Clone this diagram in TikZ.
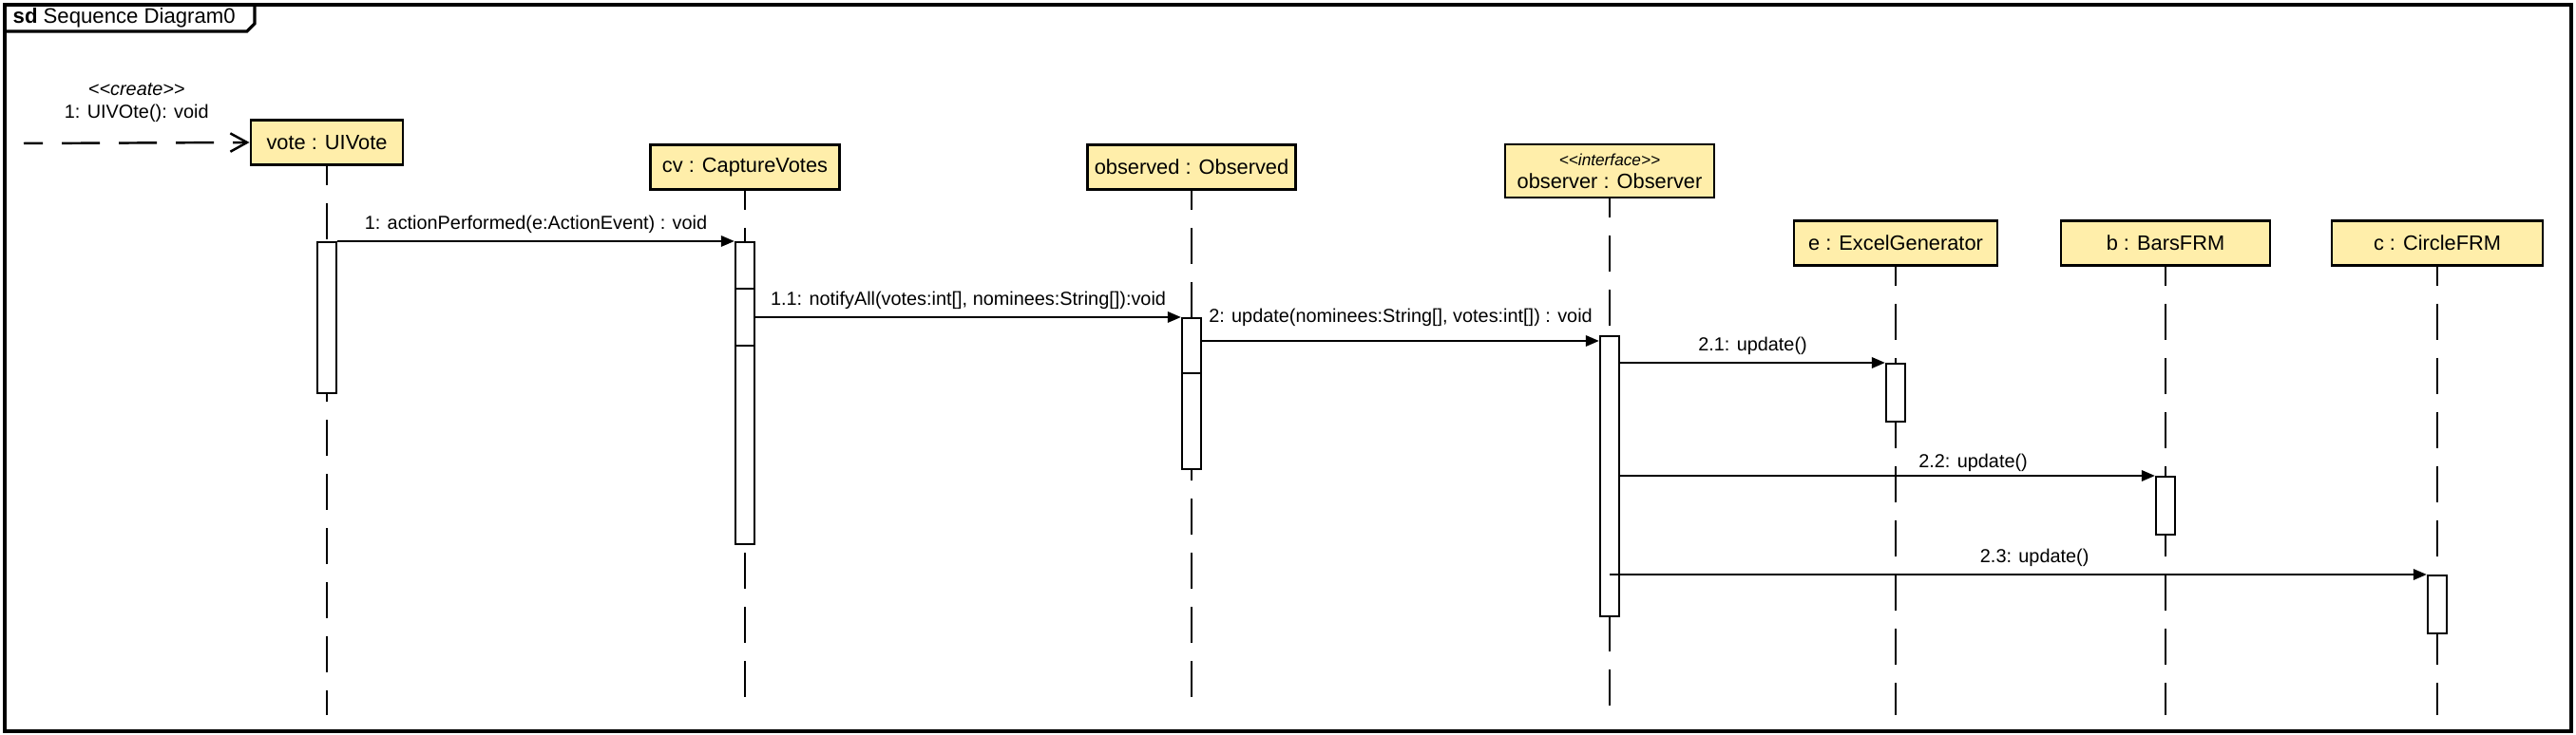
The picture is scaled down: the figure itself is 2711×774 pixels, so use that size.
\documentclass[tikz,border=0pt]{standalone}
\usepackage{fontspec}
\setmainfont{Liberation Sans}
\usetikzlibrary{arrows.meta}

\definecolor{objfill}{RGB}{255,238,170}

\tikzset{>={Triangle[length=4pt,width=3.2pt]},
                 box/.style={draw, line width=0.8pt, fill=objfill, minimum height=0.47cm, inner sep=0pt,
                             align=center, font=\fontsize{6.2}{7.4}\selectfont},
                 bar/.style={draw, line width=0.6pt, fill=white, minimum width=0.2cm, inner sep=0pt, anchor=north},
                life/.style={line width=0.6pt, dash pattern=on 0.38cm off 0.19cm, dash phase=0.18cm},
                 msg/.style={->, line width=0.7pt},
              create/.style={-{Straight Barb[length=5pt,width=5.5pt]}, line width=0.7pt,
                             dash pattern=on 0.4cm off 0.2cm, dash phase=0.2cm},
                 lbl/.style={font=\fontsize{5.65}{6.6}\selectfont, inner sep=2pt},
                 frm/.style={line width=0.9pt}}

\begin{document}
\begin{tikzpicture}[x=0.01cm, y=-0.01cm]
            \useasboundingbox (0,0) rectangle (2711,774);

            \draw[frm] (5,5) rectangle (2706,770);
            \draw[frm] (5,33) -- (260,33) -- (268,25) -- (268,5);
            \node[anchor=base west, inner sep=0pt, font=\fontsize{6.3}{7.5}\selectfont] (title) at (13,25)
                {\textbf{sd} Sequence Diagram0};

            \node[box, minimum width=1.60cm] at ( 344, 150) (vote)     {vote : UIVote};
            \node[box, minimum width=1.99cm] at ( 784, 176) (cv)       {cv : CaptureVotes};
            \node[box, minimum width=2.19cm] at (1254, 176) (observed) {observed : Observed};
            \node[box, minimum width=2.20cm, minimum height=0.56cm] at (1694, 180) (observer)
                {{\fontsize{4.9}{5.9}\selectfont\textit{{<}{<}interface{>}{>}}}\\[-0.6pt]observer : Observer};
            \node[box, minimum width=2.14cm] at (1995, 256) (gen)      {e : ExcelGenerator};
            \node[box, minimum width=2.20cm] at (2279, 256) (bars)     {b : BarsFRM};
            \node[box, minimum width=2.22cm] at (2565, 256) (circle)   {c : CircleFRM};

            \coordinate (bottom) at (0,753);
            \foreach \n in {vote, cv, observed, observer, gen, bars, circle}
                \draw[life] (\n.south) -- (\n.south |- bottom);

            \node[bar, minimum height=1.59cm] at ( 344, 254) (actv)    {};
            \node[bar, minimum height=3.18cm] at ( 784, 254) (actcv)   {};
            \node[bar, minimum height=0.60cm] at ( 784, 303) (actcvb)  {};
            \node[bar, minimum height=1.59cm] at (1254, 334) (actobs)  {};
            \node[bar, minimum height=0.58cm] at (1254, 334) (actobsb) {};
            \node[bar, minimum height=2.95cm] at (1694, 353) (actobsr) {};
            \node[bar, minimum height=0.61cm] at (1995, 382) (actgen)  {};
            \node[bar, minimum height=0.61cm] at (2279, 501) (actbars) {};
            \node[bar, minimum height=0.61cm] at (2565, 605) (actcirc) {};

            \coordinate (cstart) at (25,151);
            \coordinate (upd)    at (0,359);

            \draw[create]
                   (cstart)
                -- node[lbl, above=4pt, align=center] {\textit{{<}{<}create{>}{>}}\\1: UIVOte(): void}
                   (vote.west);

            \draw[msg]
                   (actv.north east)
                -- node[lbl, above] {1: actionPerformed(e:ActionEvent) : void}
                   (actcv.north west);

            \draw[msg]
                   (actobs.north west -| actcv.east)
                -- node[lbl, above] {1.1: notifyAll(votes:int[], nominees:String[]):void}
                   (actobs.north west);

            \draw[msg]
                   (actobs.east |- upd)
                -- node[lbl, above=2pt] {2: update(nominees:String[], votes:int[]) : void}
                   (actobsr.west |- upd);

            \draw[msg]
                   (actgen.north west -| actobsr.east)
                -- node[lbl, above] {2.1: update()}
                   (actgen.north west);

            \draw[msg]
                   (actbars.north west -| actobsr.east)
                -- node[lbl, above=-1pt, pos=0.66] {2.2: update()}
                   (actbars.north west);

            \draw[msg]
                   (actcirc.north west -| actobsr)
                -- node[lbl, above, pos=0.52] {2.3: update()}
                   (actcirc.north west);
        \end{tikzpicture}
\end{document}
